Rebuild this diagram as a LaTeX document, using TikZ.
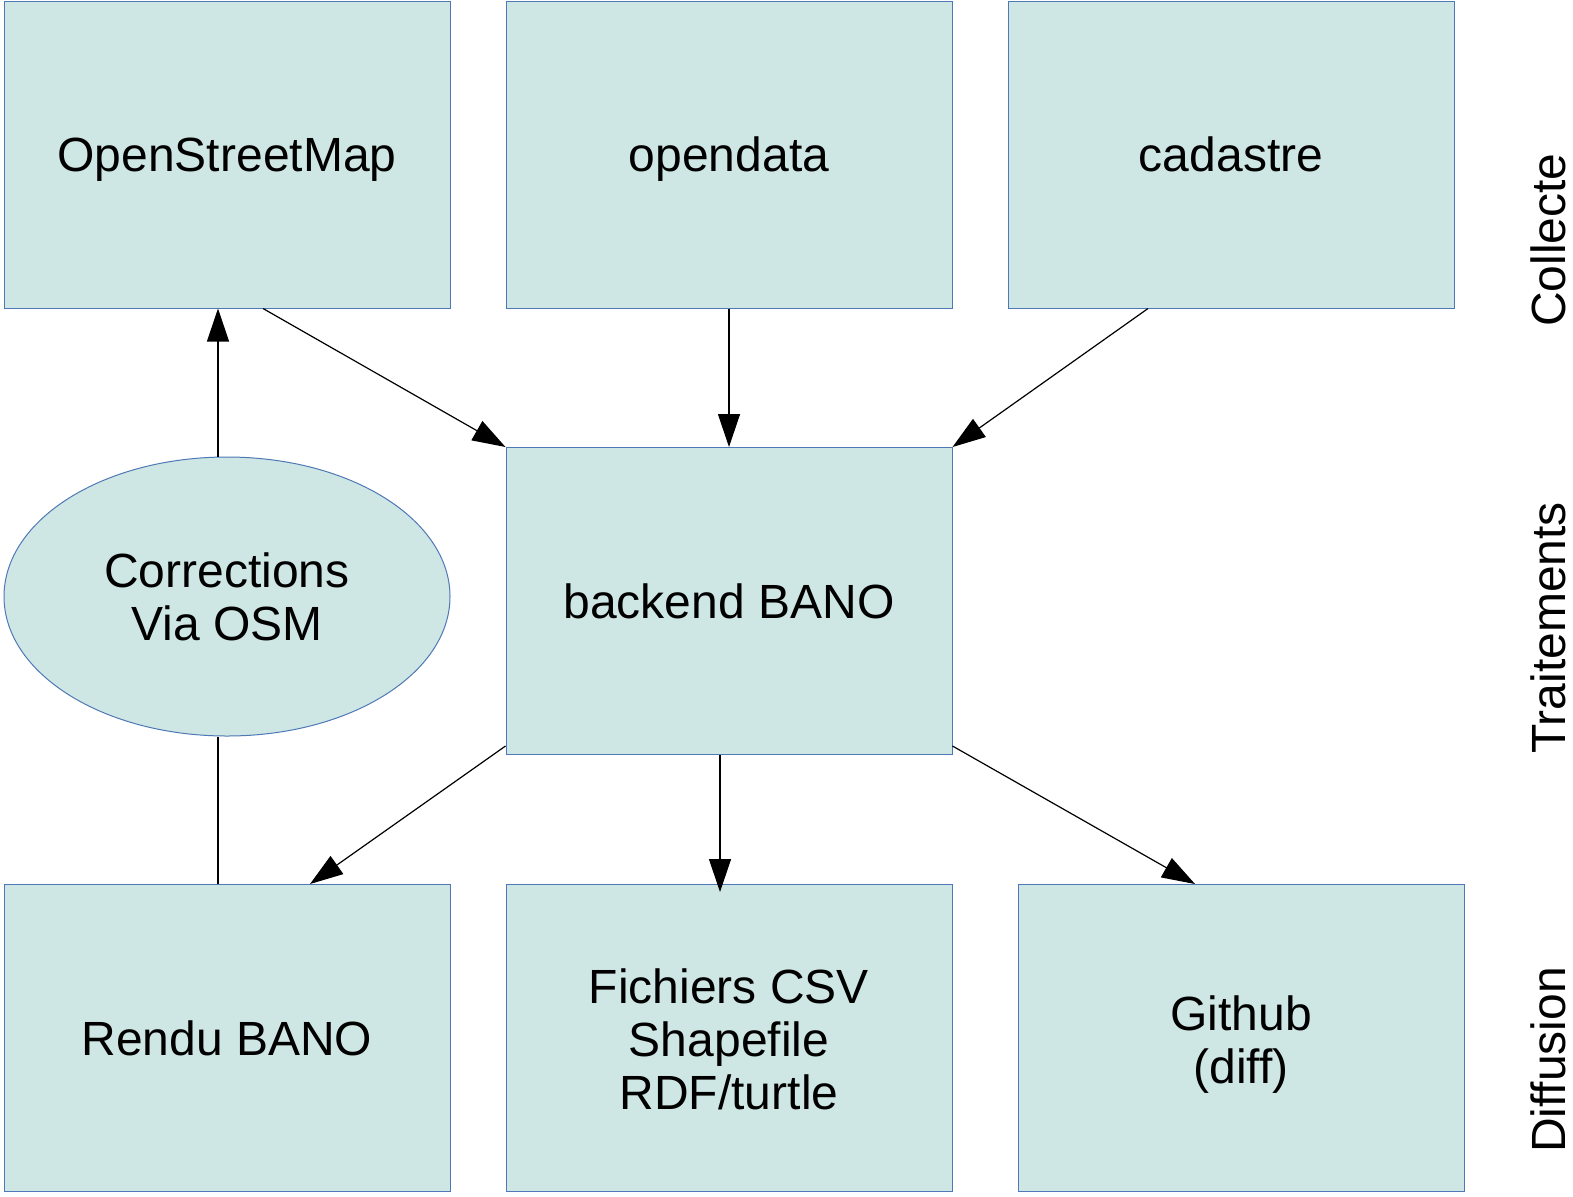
\documentclass[tikz,border=0pt]{standalone}
\usepackage{fontspec}
\setmainfont{Liberation Sans}
\usetikzlibrary{arrows.meta,shapes.geometric}
\definecolor{boxfill}{RGB}{207,231,228}
\definecolor{boxline}{RGB}{79,120,182}

\begin{document}
\begin{tikzpicture}[x=0.5pt,y=-0.5pt,
	bloc/.style={draw=boxline,fill=boxfill,line width=0.5pt,minimum width=223pt,minimum height=153.5pt,inner sep=0pt,align=center,font=\fontsize{24}{26.5}\selectfont},
	uneligne/.style={text height=17.2pt,text depth=0pt},
	bulle/.style={bloc,ellipse,minimum height=139.5pt},
	fleche/.style={line width=0.6pt,-{Triangle[length=16.5pt,width=11pt]}},
	etape/.style={rotate=90,inner sep=0pt,font=\fontsize{24}{26.5}\selectfont}]
	\useasboundingbox (0,0) rectangle (1573,1196);
	% collecte
	\node[bloc,uneligne] (osm) at (227,154.5) {OpenStreetMap};
	\node[bloc,uneligne] (opendata) at (729,154.5) {opendata};
	\node[bloc,uneligne] (cadastre) at (1231,154.5) {cadastre};
	% traitements
	\node[bulle,text height=43.5pt,text depth=0pt] (corr) at (227,596.5) {Corrections\\Via OSM};
	\node[bloc,uneligne] (backend) at (729,601) {backend BANO};
	% diffusion
	\node[bloc,uneligne] (rendu) at (227,1038) {Rendu BANO};
	\node[bloc,text height=71pt,text depth=0pt] (fichiers) at (729,1038) {Fichiers CSV\\Shapefile\\RDF/turtle};
	\node[bloc,text height=45pt,text depth=0pt] (github) at (1241,1038) {Github\\(diff)};
	% etapes
	\node[etape] (lcollecte) at (1548,240) {Collecte};
	\node[etape] (ltraitements) at (1548,628) {Traitements};
	\node[etape] (ldiffusion) at (1548,1060) {Diffusion};

	\draw[fleche] ([xshift=-4.5pt]corr.north) -- ([xshift=-4.5pt]osm.south);
	\draw[fleche] ([xshift=18pt]osm.south) -- (backend.north west);
	\draw[fleche] (opendata.south) -- (backend.north);
	\draw[fleche] ([xshift=-41.5pt]cadastre.south) -- (backend.north east);
	\draw[fleche] ([yshift=4.5pt]backend.south west) -- ([xshift=41.5pt]rendu.north);
	\draw[fleche] ([xshift=-4.5pt]backend.south) -- ([xshift=-4.5pt,yshift=-4pt]fichiers.north);
	\draw[fleche] ([yshift=4.5pt]backend.south east) -- ([xshift=-23pt]github.north);
	\draw[line width=0.6pt] ([xshift=-4.5pt]rendu.north) -- ([xshift=-4.5pt]corr.south);
\end{tikzpicture}
\end{document}
